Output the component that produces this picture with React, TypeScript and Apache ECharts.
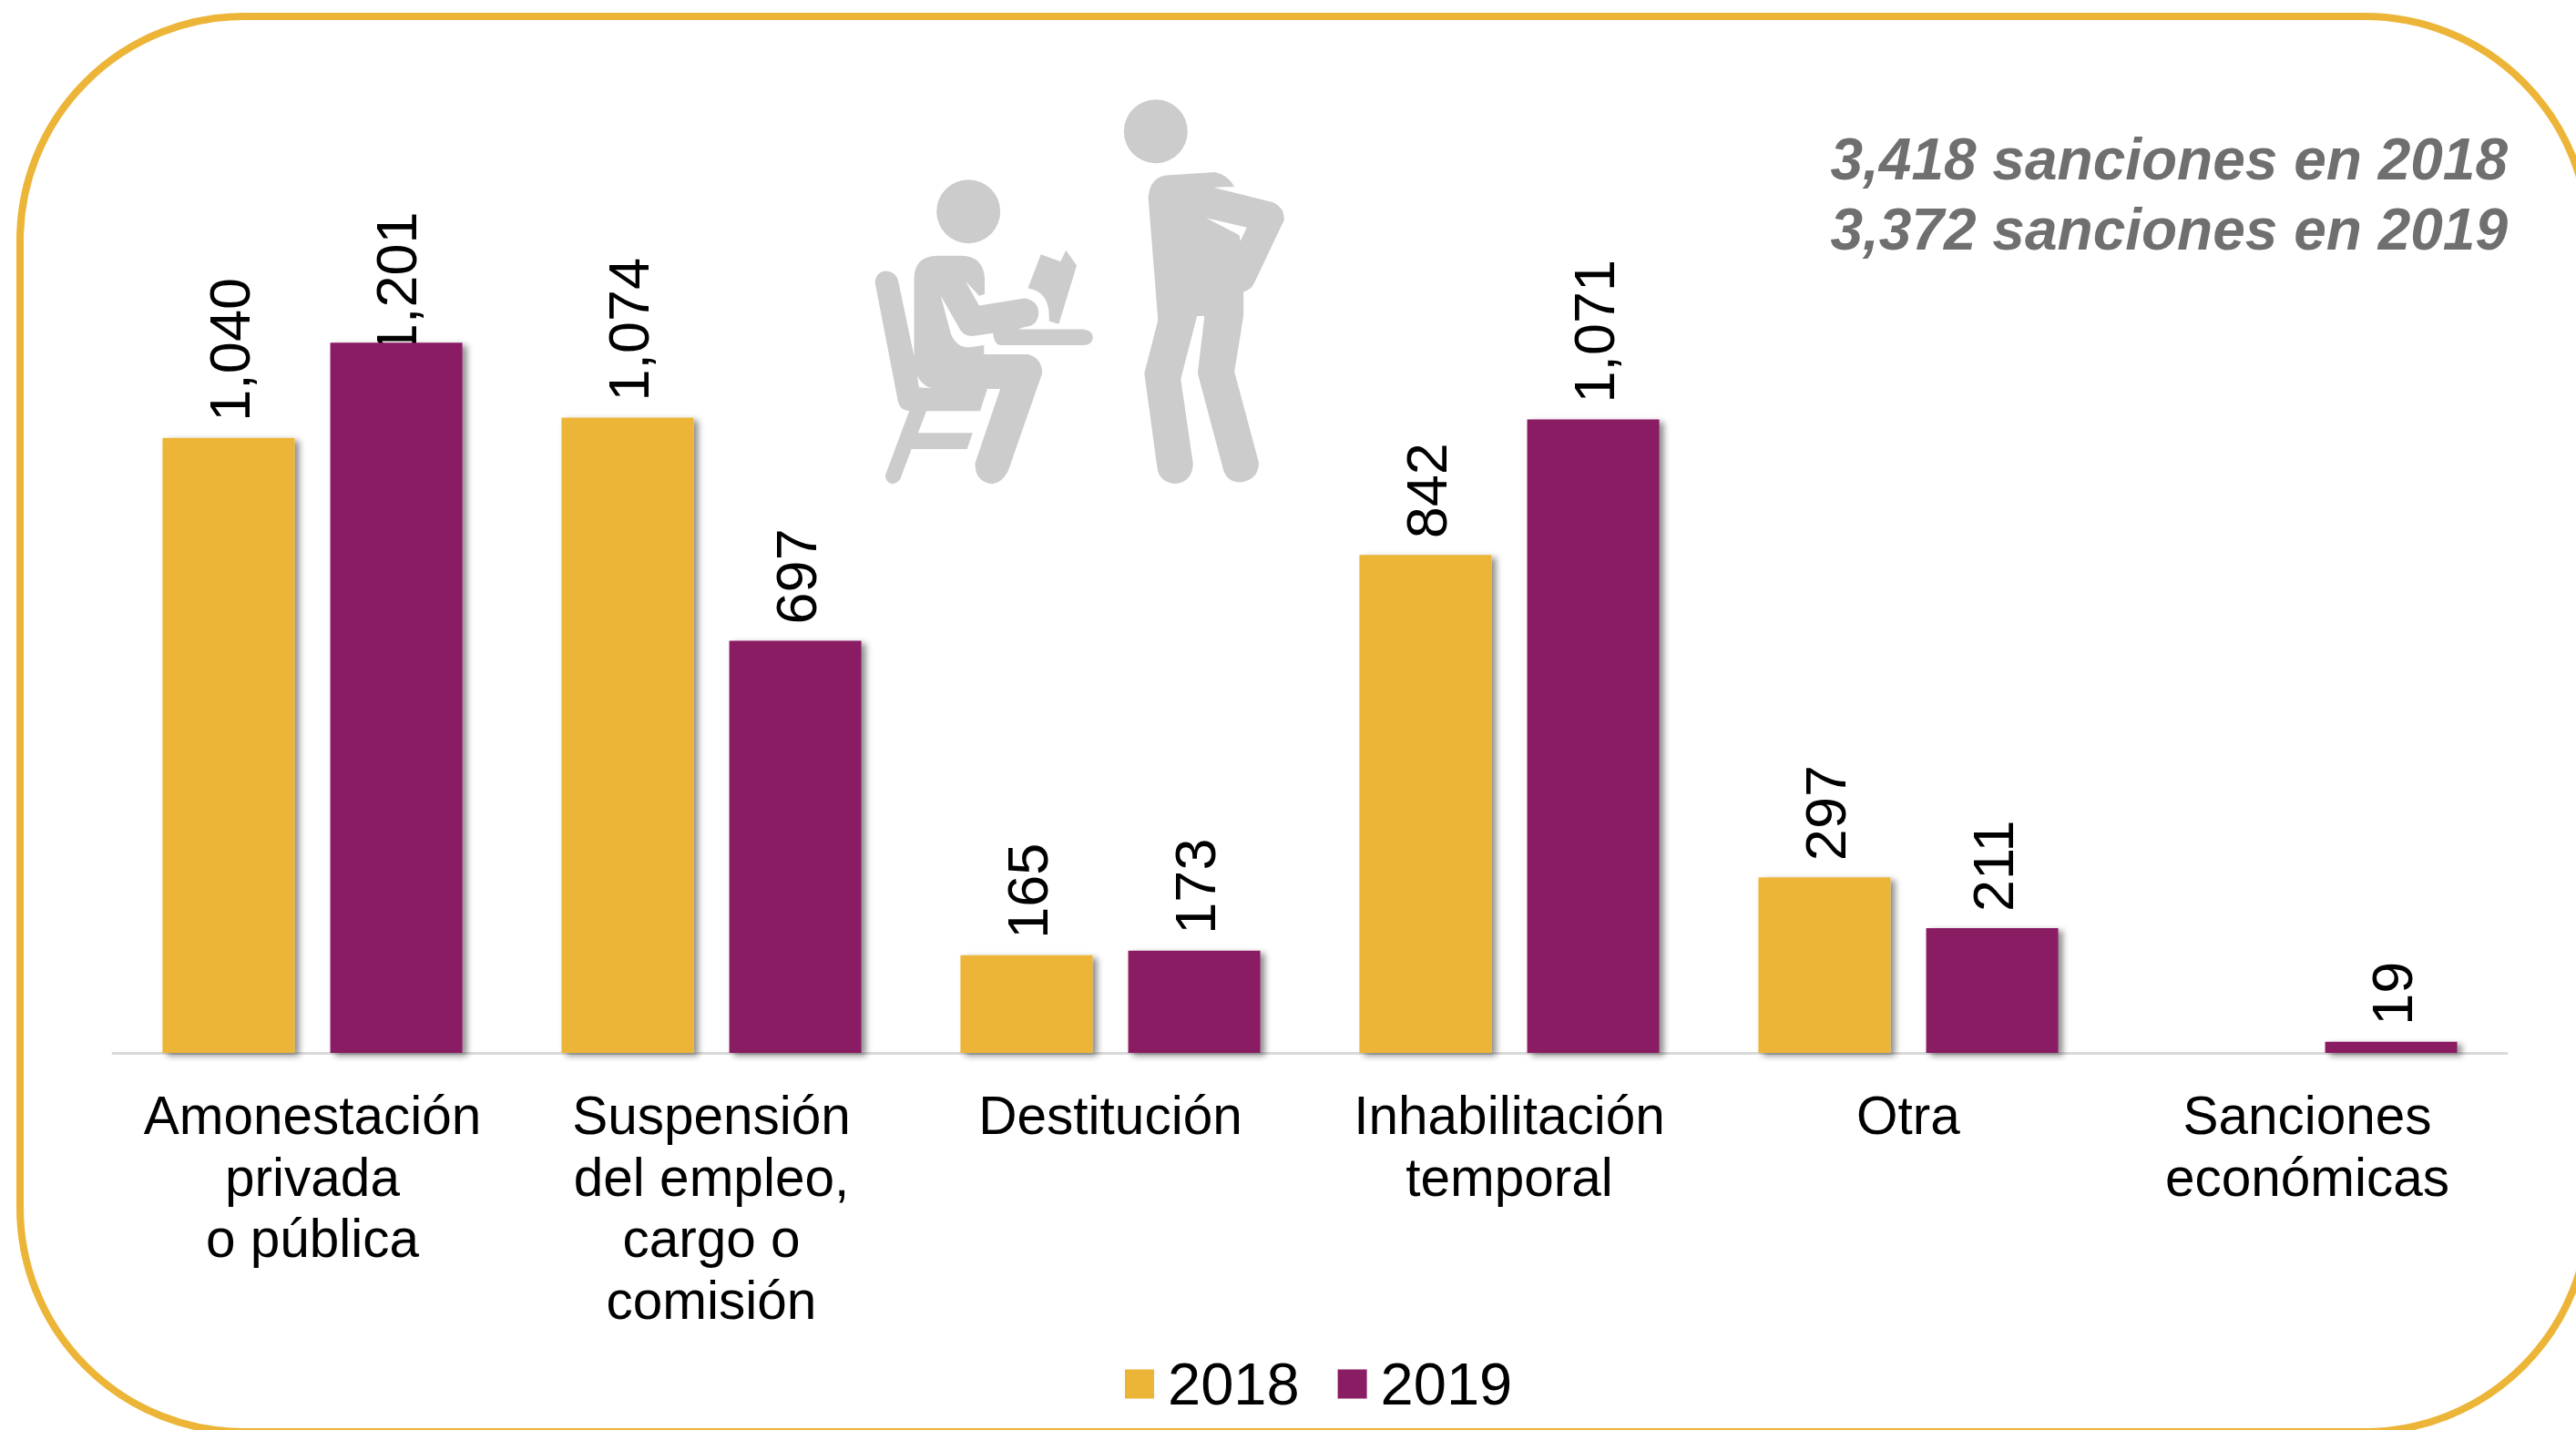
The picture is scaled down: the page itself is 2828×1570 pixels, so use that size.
import React, { useEffect, useRef } from "react";
import * as echarts from "echarts";

const categories = [
  "Amonestación\nprivada\no pública",
  "Suspensión\ndel empleo,\ncargo o\ncomisión",
  "Destitución",
  "Inhabilitación\ntemporal",
  "Otra",
  "Sanciones\neconómicas",
];
const seriesNames = ["2018", "2019"];
const values2018: (number | null)[] = [1040, 1074, 165, 842, 297, null];
const values2019: number[] = [1201, 697, 173, 1071, 211, 19];
const noteLines = ["3,418 sanciones en 2018", "3,372 sanciones en 2019"];

const GOLD = "#ECB538";
const PURPLE = "#8A1C64";
const FONT = "'Liberation Sans', Arial, sans-serif";

const HEADS =
  "M359 457A98 105 0 1 0 555 457A98 105 0 1 0 359 457Z M935 193A98 105 0 1 0 1131 193A98 105 0 1 0 935 193Z";
const SEATED =
  "M290 680Q290 605 360 603L435 603Q505 605 507 680L507 730L490 735L448 687L490 767L630 743Q672 750 673 792Q670 835 630 838L610 845L810 845Q838 848 840 872Q838 897 810 898L555 898Q535 895 533 858L470 868Q440 868 428 840L372 735L403 860Q420 905 460 905L505 898L505 928L640 928Q683 940 684 990L580 1310Q560 1355 525 1355Q475 1345 478 1285L555 1042L515 1042L493 1115L328 1115L302 1187L470 1187L453 1240L282 1240L247 1340Q235 1355 222 1355Q200 1348 202 1325L275 1115Q243 1110 240 1080L170 692Q172 655 205 653Q238 657 242 690L290 935Z M300 1000L305 1037L343 1040Q315 1030 300 1000Z";
const BOOK = "M680 598L740 622L757 585L790 635L735 828L705 818Q710 720 640 710Z";
const STANDING =
  "M1010 410Q1015 345 1065 338L1215 327Q1255 335 1275 375L1210 378L1395 427Q1430 445 1428 485L1335 695Q1325 715 1303 722L1303 800L1275 985L1350 1285Q1350 1340 1295 1350Q1250 1350 1240 1305L1162 990L1183 802L1160 802L1110 1010L1148 1290Q1145 1350 1092 1355Q1045 1350 1038 1305L998 990L1040 815Z M1188 478L1290 535L1293 555L1313 510Z";

echarts.graphic.registerShape("figures", echarts.graphic.extendPath(`${HEADS} ${SEATED} ${BOOK} ${STANDING}`, {}));

const fmt = (v: number) => v.toLocaleString("en-US");

export default function App() {
  const ref = useRef<HTMLDivElement>(null);
  useEffect(() => {
    document.body.style.margin = "0";
    const chart = echarts.init(ref.current!, null, { renderer: "svg" });
    const barShadow = {
      shadowBlur: 7,
      shadowColor: "rgba(0,0,0,0.45)",
      shadowOffsetX: 5,
      shadowOffsetY: 3,
    };
    const dataLabel = {
      show: true,
      position: "top" as const,
      rotate: 90,
      align: "left" as const,
      verticalAlign: "middle" as const,
      distance: 18,
      offset: [0, 1],
      fontFamily: FONT,
      fontSize: 63,
      color: "#000",
      formatter: (p: any) => fmt(p.value),
    };
    chart.setOption({
      animation: false,
      backgroundColor: "#fff",
      grid: { left: 124, width: 2628, top: 182, height: 974, containLabel: false },
      xAxis: {
        type: "category",
        data: categories,
        axisLine: { lineStyle: { color: "#D9D9D9", width: 3 } },
        axisTick: { show: false },
        axisLabel: {
          interval: 0,
          margin: 35,
          fontFamily: FONT,
          fontSize: 58.5,
          lineHeight: 67.5,
          color: "#000",
          verticalAlign: "top",
        },
      },
      yAxis: { type: "value", min: 0, max: 1500, show: false, splitLine: { show: false } },
      legend: {
        data: seriesNames,
        left: 1230,
        top: 1482,
        icon: "rect",
        itemWidth: 32,
        itemHeight: 32,
        itemGap: 42,
        textStyle: { fontFamily: FONT, fontSize: 65, color: "#000", padding: [0, 0, 0, 10] },
      },
      series: [
        {
          name: seriesNames[0],
          type: "bar",
          data: values2018,
          barWidth: 145,
          barGap: "27%",
          itemStyle: { color: GOLD, ...barShadow },
          label: dataLabel,
        },
        {
          name: seriesNames[1],
          type: "bar",
          data: values2019.map((v, i) => (i === 0 ? { value: v, label: { show: false } } : v)),
          barWidth: 145,
          barGap: "27%",
          itemStyle: { color: PURPLE, ...barShadow },
          label: dataLabel,
          markPoint: {
            z: 1,
            symbol: "rect",
            symbolSize: 1,
            itemStyle: { color: "rgba(0,0,0,0)", shadowBlur: 0 },
            data: [
              {
                coord: [0, values2019[0]],
                value: values2019[0],
                label: {
                  show: true,
                  position: "inside",
                  rotate: 90,
                  align: "left",
                  verticalAlign: "middle",
                  offset: [-14, 0],
                  fontFamily: FONT,
                  fontSize: 63,
                  color: "#000",
                  formatter: () => fmt(values2019[0]),
                },
              },
            ],
          },
        },
      ],
      graphic: [
        {
          type: "rect",
          silent: true,
          z: 0,
          shape: { x: 22, y: 18, width: 2820, height: 1554, r: 246 },
          style: { fill: "none", stroke: GOLD, lineWidth: 8 },
        },
        {
          type: "figures",
          silent: true,
          x: 900,
          y: 80,
          scaleX: 1 / 2.8,
          scaleY: 1 / 3,
          style: { fill: "#CCCCCC" },
        },
        ...noteLines.map((t, i) => ({
          type: "text",
          silent: true,
          x: 2753,
          y: 143 + i * 77,
          style: {
            text: t,
            align: "right",
            verticalAlign: "top",
            fontFamily: FONT,
            fontSize: 64,
            fontWeight: "bold",
            fontStyle: "italic",
            fill: "#6F6F6F",
          },
        })),
      ],
    });
    return () => chart.dispose();
  }, []);
  return <div ref={ref} style={{ position: "fixed", left: 0, top: 0, width: 2828, height: 1570 }} />;
}
